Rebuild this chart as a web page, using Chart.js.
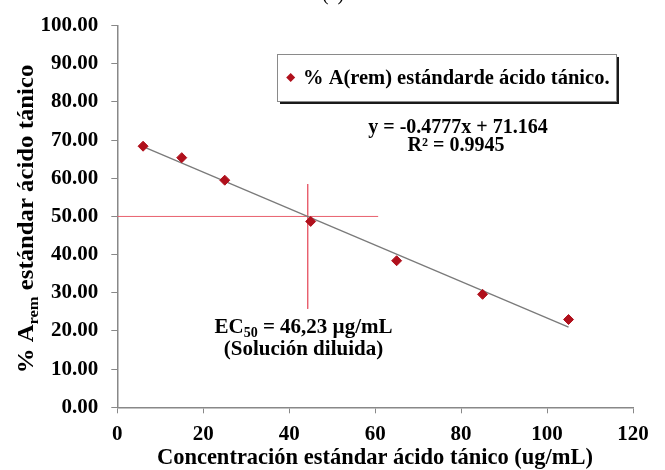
<!DOCTYPE html>
<html>
<head>
<meta charset="utf-8">
<script src="https://cdn.jsdelivr.net/npm/chart.js@4/dist/chart.umd.min.js"></script>
<style>
  html, body { margin: 0; padding: 0; background: #fff; }
  #wrap { width: 665px; height: 470px; position: relative; }
</style>
</head>
<body>
<div id="wrap"><canvas id="c" width="665" height="470"></canvas></div>
<script>
// Tannic acid standard: concentration (ug/mL) vs % A(rem)
const concentrations = [6, 15, 25, 45, 65, 85, 105];
const remainingAbs = [68.4, 65.4, 59.5, 48.7, 38.4, 29.6, 23.0];

// Linear fit reported on the chart
const fitSlope = -0.4777;
const fitIntercept = 71.164;
const fitR2 = 0.9945;

// 50 % cross-hair
const halfLevel = 50;
const halfLineEndX = 60.7;
const crossX = 44.3;
const crossYRange = [58.5, 25.8];

const xTicks = [0, 20, 40, 60, 80, 100, 120];
const yTicks = [0, 10, 20, 30, 40, 50, 60, 70, 80, 90, 100];

const seriesLabel = '% A(rem) estándarde ácido tánico.';
const xTitle = 'Concentración estándar ácido tánico (ug/mL)';
const ecLine1 = ['EC', '50', ' = 46,23 µg/mL'];
const ecLine2 = '(Solución diluida)';

const SERIF = '"Liberation Serif", "Times New Roman", serif';
const RED = '#B0101C';
const CROSS = '#E8606E';

const fitStart = concentrations[0];
const fitEnd = concentrations[concentrations.length - 1];

const annotations = {
  id: 'annotations',
  afterDraw(chart) {
    const ctx = chart.ctx;
    ctx.save();
    ctx.fillStyle = '#000';

    // panel letter (clipped at the top edge)
    ctx.font = '20px ' + SERIF;
    ctx.textAlign = 'center';
    ctx.textBaseline = 'alphabetic';
    ctx.fillText('(a)', 333, 0);

    // legend box with shadow
    const bx = 277, by = 54, bw = 339, bh = 47;
    ctx.fillStyle = '#1a1a1a';
    ctx.fillRect(bx + 3, by + 3, bw, bh);
    ctx.fillStyle = '#fff';
    ctx.fillRect(bx, by, bw, bh);
    ctx.strokeStyle = '#8a8a8a';
    ctx.lineWidth = 1;
    ctx.strokeRect(bx + 0.5, by + 0.5, bw, bh);
    // marker
    ctx.fillStyle = RED;
    const mx = 290.7, my = 77.5;
    ctx.beginPath();
    ctx.moveTo(mx, my - 4.5); ctx.lineTo(mx + 4.5, my); ctx.lineTo(mx, my + 4.5); ctx.lineTo(mx - 4.5, my);
    ctx.closePath(); ctx.fill();
    ctx.fillStyle = '#000';
    ctx.font = 'bold 20.5px ' + SERIF;
    ctx.textAlign = 'left';
    ctx.textBaseline = 'middle';
    ctx.fillText(seriesLabel, 303, my + 1);

    // fit equation
    ctx.textAlign = 'center';
    ctx.font = 'bold 20px ' + SERIF;
    const eq = 'y = ' + fitSlope.toFixed(4) + 'x + ' + fitIntercept.toFixed(3);
    ctx.fillText(eq, 458, 128);
    ctx.fillText('R² = ' + fitR2.toFixed(4), 456, 146);

    // EC50 note
    const mainFont = 'bold 21px ' + SERIF;
    const subFont = 'bold 14px ' + SERIF;
    ctx.font = mainFont;
    const w0 = ctx.measureText(ecLine1[0]).width;
    const w2 = ctx.measureText(ecLine1[2]).width;
    ctx.font = subFont;
    const w1 = ctx.measureText(ecLine1[1]).width;
    const sx = 303.5 - (w0 + w1 + w2) / 2;
    ctx.textAlign = 'left';
    ctx.font = mainFont;
    ctx.fillText(ecLine1[0], sx, 328);
    ctx.font = subFont;
    ctx.fillText(ecLine1[1], sx + w0, 333);
    ctx.font = mainFont;
    ctx.fillText(ecLine1[2], sx + w0 + w1, 328);
    ctx.textAlign = 'center';
    ctx.fillText(ecLine2, 303.5, 350);

    // x axis title
    ctx.font = 'bold 22.5px ' + SERIF;
    ctx.fillText(xTitle, 375, 458);

    // y axis title (rotated, with subscript)
    ctx.translate(33, 219);
    ctx.rotate(-Math.PI / 2);
    ctx.scale(1.1, 1);
    const p1 = '% A', p2 = 'rem', p3 = ' estándar ácido tánico';
    const tFont = 'bold 22.5px ' + SERIF, sFont = 'bold 15px ' + SERIF;
    ctx.font = tFont;
    const a = ctx.measureText(p1).width, c = ctx.measureText(p3).width;
    ctx.font = sFont;
    const b = ctx.measureText(p2).width;
    const tx = -(a + b + c) / 2;
    ctx.textAlign = 'left';
    ctx.textBaseline = 'alphabetic';
    ctx.font = tFont;
    ctx.fillText(p1, tx, 0);
    ctx.font = sFont;
    ctx.fillText(p2, tx + a, 5);
    ctx.font = tFont;
    ctx.fillText(p3, tx + a + b, 0);
    ctx.restore();
  }
};

new Chart(document.getElementById('c'), {
  type: 'scatter',
  data: {
    datasets: [
      {
        label: seriesLabel,
        data: concentrations.map((x, i) => ({ x, y: remainingAbs[i] })),
        pointStyle: 'rectRot',
        pointRadius: 5,
        pointBackgroundColor: RED,
        pointBorderColor: RED,
        showLine: false,
        order: 0
      },
      {
        label: 'fit',
        type: 'line',
        data: [
          { x: fitStart, y: fitSlope * fitStart + fitIntercept },
          { x: fitEnd, y: fitSlope * fitEnd + fitIntercept }
        ],
        borderColor: '#7a7a7a',
        borderWidth: 1.3,
        pointRadius: 0,
        order: 1
      },
      {
        label: 'half',
        type: 'line',
        data: [{ x: 0, y: halfLevel }, { x: halfLineEndX, y: halfLevel }],
        borderColor: CROSS,
        borderWidth: 1,
        pointRadius: 0,
        order: 2
      },
      {
        label: 'cross',
        type: 'line',
        data: [{ x: crossX, y: crossYRange[0] }, { x: crossX, y: crossYRange[1] }],
        borderColor: CROSS,
        borderWidth: 1,
        pointRadius: 0,
        order: 2
      }
    ]
  },
  options: {
    responsive: false,
    animation: false,
    layout: { padding: { top: 22.5, right: 32, left: 0, bottom: 0 } },
    plugins: { legend: { display: false }, tooltip: { enabled: false } },
    scales: {
      x: {
        type: 'linear',
        min: 0, max: 120,
        afterFit(s) { s.height = 62.7; },
        afterBuildTicks(s) { s.ticks = xTicks.map(v => ({ value: v })); },
        ticks: { font: { family: SERIF, size: 21, weight: 'bold' }, color: '#000', padding: 9 },
        grid: { drawOnChartArea: false, drawTicks: true, tickLength: 6, color: '#888' },
        border: { color: '#888', width: 1.5 }
      },
      y: {
        min: 0, max: 100,
        afterFit(s) { s.width = 117.3; },
        afterBuildTicks(s) { s.ticks = yTicks.map(v => ({ value: v })); },
        ticks: {
          font: { family: SERIF, size: 21, weight: 'bold' }, color: '#000', padding: 13,
          callback: v => Number(v).toFixed(2)
        },
        grid: { drawOnChartArea: false, drawTicks: true, tickLength: 6, color: '#888' },
        border: { color: '#888', width: 1.5 }
      }
    }
  },
  plugins: [annotations]
});
</script>
</body>
</html>
